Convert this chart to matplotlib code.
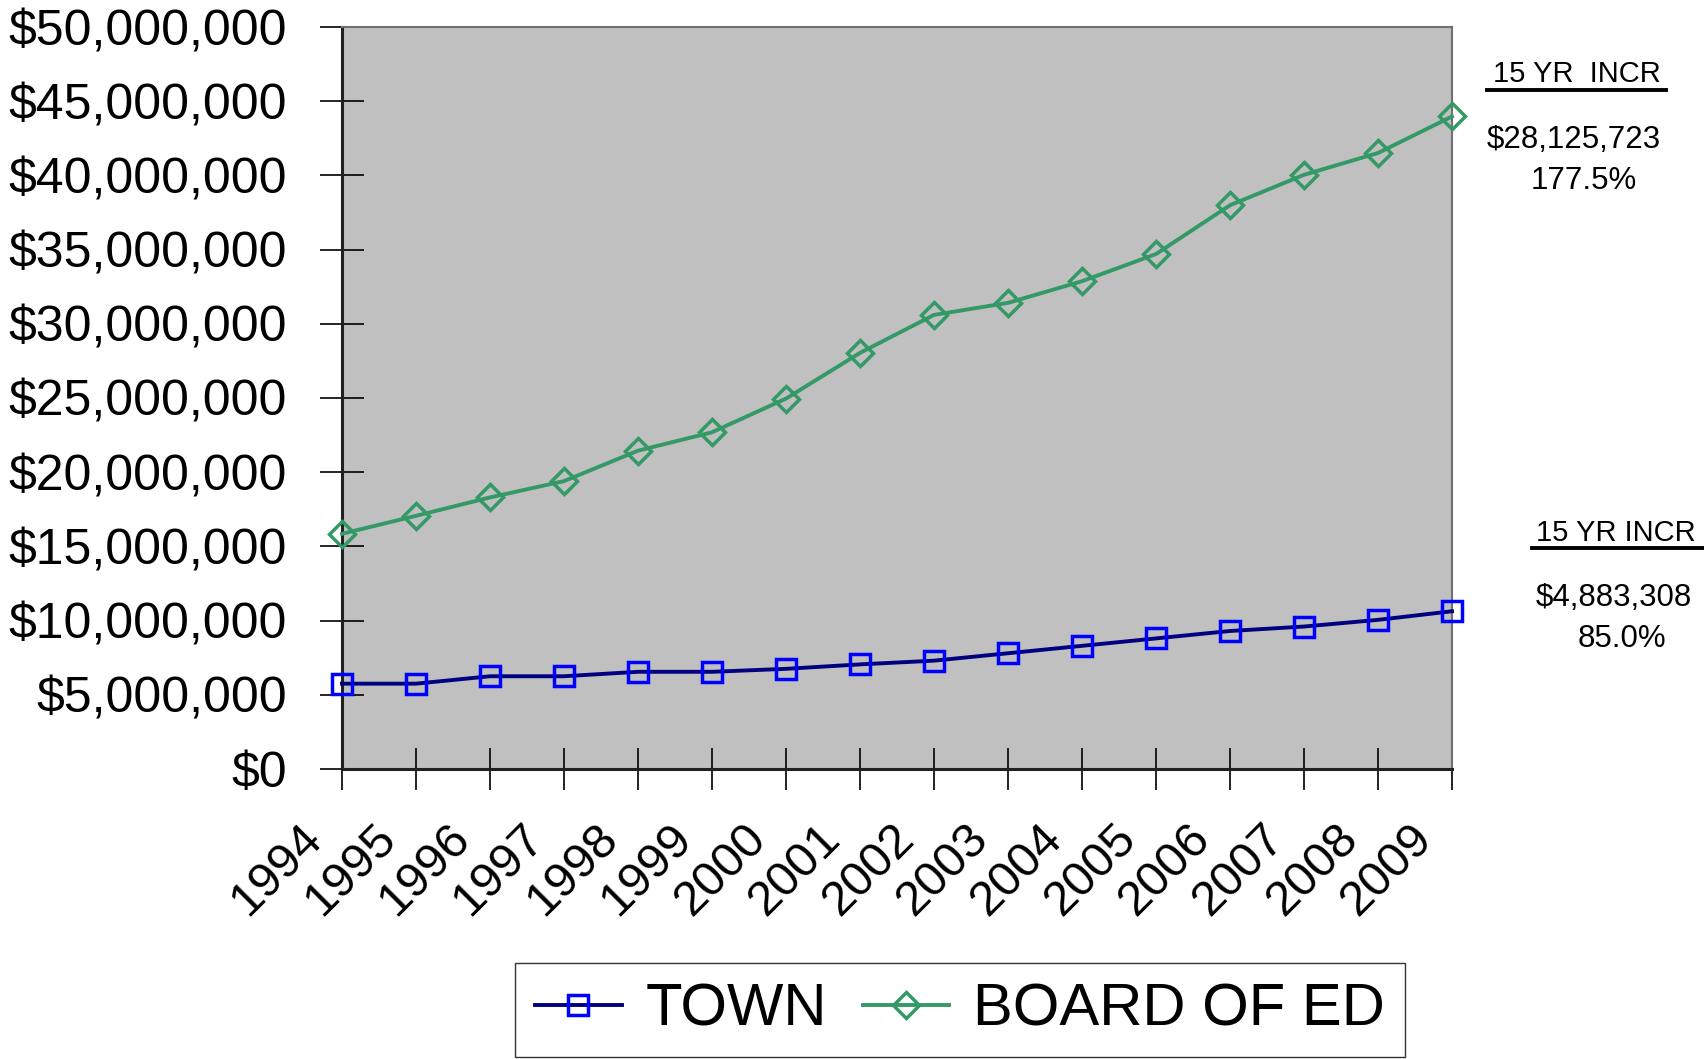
import matplotlib
matplotlib.use("Agg")
import matplotlib.pyplot as plt
from matplotlib.lines import Line2D
from matplotlib.ticker import FuncFormatter, MultipleLocator
from matplotlib.transforms import ScaledTranslation

years = [1994, 1995, 1996, 1997, 1998, 1999, 2000, 2001, 2002, 2003,
         2004, 2005, 2006, 2007, 2008, 2009]
town = [5.75, 5.75, 6.25, 6.25, 6.55, 6.55, 6.75, 7.05, 7.30, 7.80,
        8.30, 8.80, 9.30, 9.60, 10.05, 10.63]
board_of_ed = [15.85, 17.06, 18.30, 19.40, 21.45, 22.69, 24.96, 28.04, 30.60, 31.41,
               32.87, 34.70, 37.99, 40.04, 41.51, 43.97]
town = [v * 1e6 for v in town]
board_of_ed = [v * 1e6 for v in board_of_ed]

series_labels = ["TOWN", "BOARD OF ED"]
boe_note = ["15 YR  INCR", "$28,125,723", "177.5%"]
town_note = ["15 YR INCR", "$4,883,308", "85.0%"]

plt.rcParams['font.family'] = ['Liberation Sans', 'DejaVu Sans']

W, H = 1704, 1059
fig = plt.figure(figsize=(W / 100, H / 100), dpi=100)
L, R, T, B = 342, 1452, 27, 769
ax = fig.add_axes([L / W, 1 - B / H, (R - L) / W, (B - T) / H])
ax.set_facecolor('#C0C0C0')

ax.plot(years, town, color='#000080', lw=2.8, marker='s', ms=14.5,
        mfc='none', mec='#0000FF', mew=2.5, clip_on=False, zorder=3,
        label=series_labels[0])
ax.plot(years, board_of_ed, color='#339966', lw=2.8, marker='D', ms=13.5,
        mfc='none', mec='#339966', mew=2.5, clip_on=False, zorder=3,
        label=series_labels[1])

ax.set_xlim(1994, 2009)
ax.set_ylim(0, 50e6)
ax.yaxis.set_major_locator(MultipleLocator(5e6))
ax.yaxis.set_major_formatter(FuncFormatter(lambda v, p: "${:,.0f}".format(v)))
ax.set_xticks(years)
ax.set_xticklabels([str(y) for y in years], rotation=45, ha='right',
                   va='center', rotation_mode='anchor')

ax.tick_params(axis='y', direction='inout', length=31, width=1.2,
               labelsize=36, pad=24, colors='black')
ax.tick_params(axis='x', direction='inout', length=30, width=1.2,
               labelsize=35, pad=26, colors='black')

offset = ScaledTranslation(-0.27, -0.06, fig.dpi_scale_trans)
for lab in ax.get_xticklabels():
    lab.set_transform(lab.get_transform() + offset)

for s in ['top', 'right']:
    ax.spines[s].set_color('#707070')
    ax.spines[s].set_linewidth(1.5)
for s in ['left', 'bottom']:
    ax.spines[s].set_color('#202020')
    ax.spines[s].set_linewidth(2.2)

leg = fig.legend(loc='center', bbox_to_anchor=(960 / W, 1 - 1010 / H),
                 ncol=2, fontsize=43, frameon=True, fancybox=False,
                 edgecolor='black', handlelength=1.45, handletextpad=0.4,
                 columnspacing=0.6, borderpad=0.33, borderaxespad=0)
leg.get_frame().set_linewidth(1.0)


def fx(px):
    return px / W


def fy(py):
    return 1 - py / H


# BOARD OF ED annotation
fig.text(fx(1577), fy(74), boe_note[0], fontsize=21, ha='center', va='center')
fig.add_artist(Line2D([fx(1487), fx(1666)], [fy(90), fy(90)], color='black', lw=2.8))
fig.text(fx(1574), fy(140), boe_note[1], fontsize=22.5, ha='center', va='center')
fig.text(fx(1584), fy(181), boe_note[2], fontsize=22.5, ha='center', va='center')

# TOWN annotation
fig.text(fx(1616), fy(533), town_note[0], fontsize=21, ha='center', va='center')
fig.add_artist(Line2D([fx(1532), fx(1704)], [fy(548), fy(548)], color='black', lw=2.8))
fig.text(fx(1614), fy(598), town_note[1], fontsize=22.5, ha='center', va='center')
fig.text(fx(1622), fy(639), town_note[2], fontsize=22.5, ha='center', va='center')

fig.savefig('out.png', dpi=100)
